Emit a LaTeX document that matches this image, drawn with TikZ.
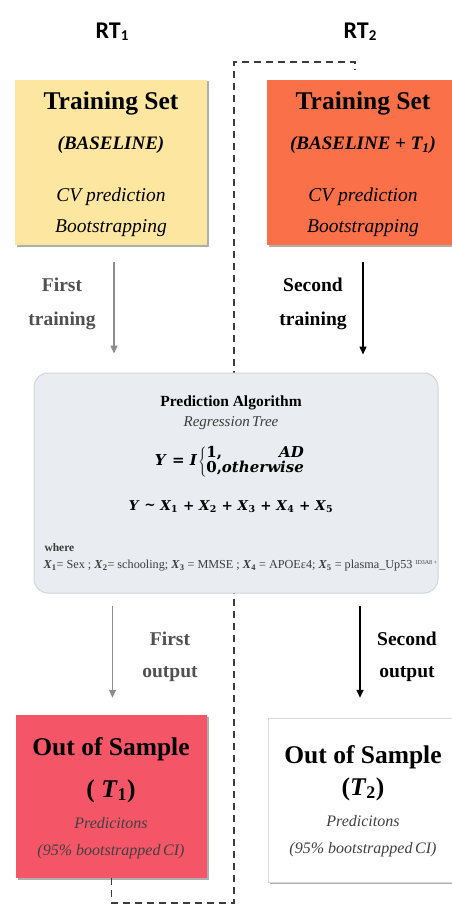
\documentclass[tikz,border=0pt]{standalone}
\usepackage{fontspec}
\setmainfont{Liberation Serif}[BoldFont={Liberation Serif Bold}, ItalicFont={Liberation Serif Italic}, BoldItalicFont={Liberation Serif Bold Italic}]
\newfontfamily\rtfont{Carlito}
\newfontfamily\eqf{DejaVu Serif}
\usetikzlibrary{shadows,arrows.meta}
\definecolor{yel}{RGB}{253,231,160}
\definecolor{org}{RGB}{250,112,72}
\definecolor{redb}{RGB}{244,86,104}
\definecolor{grayb}{RGB}{233,236,240}
\definecolor{grayline}{RGB}{210,214,218}
\definecolor{dgray}{RGB}{60,60,60}
\definecolor{agray}{RGB}{140,140,140}
\definecolor{lgray}{RGB}{80,80,80}
\begin{document}
\begin{tikzpicture}[x=1pt,y=-1pt,
  box/.style={draw=none, inner sep=0pt,
    drop shadow={shadow xshift=1.5pt,shadow yshift=-1.5pt,opacity=0.45,fill=black!70}},
  title/.style={font=\fontsize{25.5}{28}\selectfont\bfseries},
  sub/.style={font=\fontsize{19}{22}\selectfont\bfseries\itshape},
  ital/.style={font=\fontsize{19.5}{22}\selectfont\itshape},
  smallital/.style={font=\fontsize{16}{18}\selectfont\itshape},
  lab/.style={font=\fontsize{19.5}{22}\selectfont\bfseries},
  rt/.style={font=\fontsize{24}{26}\selectfont\rtfont\bfseries},
  dline/.style={dgray, line width=1.4pt, dash pattern=on 7pt off 5pt},
  garrow/.style={agray, line width=1.4pt, -{Triangle[length=8pt,width=7pt]}},
  barrow/.style={black, line width=1.4pt, -{Triangle[length=8pt,width=7pt]}}
]
\useasboundingbox[fill=white] (0,0) rectangle (452,904);

% dashed separator
\coordinate (dtick) at (355,70);
\coordinate (dtop) at (234,62);
\coordinate (dbot) at (234,903);
\node[box, fill=redb, minimum width=191pt, minimum height=163pt] (oos1) at (111.5,796.5) {};
\draw[dline] (oos1.south) |- (dbot) -- (dtop) -| (dtick);

% titles
\node[rt] (rt1) at (112,32) {RT\raisebox{-2pt}{\fontsize{15}{16}\selectfont 1}};
\node[rt] (rt2) at (360,32) {RT\raisebox{-2pt}{\fontsize{15}{16}\selectfont 2}};

% top boxes
\node[box, fill=yel, minimum width=192pt, minimum height=165pt] (ts1) at (111,162.5) {};
\node[box, fill=org, minimum width=190pt, minimum height=165pt] (ts2) at (362,162.5) {};

\node[title] (ts1a) at (111,103) {Training Set};
\node[sub] (ts1b) at (111,145) {(BASELINE)};
\node[ital] (ts1c) at (111,197) {CV prediction};
\node[ital] (ts1d) at (111,228) {Bootstrapping};

\node[title] (ts2a) at (363,103) {Training Set};
\node[sub] (ts2b) at (363,145) {(BASELINE + \textit{T}\textsubscript{1})};
\node[ital] (ts2c) at (363,197) {CV prediction};
\node[ital] (ts2d) at (363,228) {Bootstrapping};

% algorithm box
\node[draw=grayline, fill=grayb, line width=1pt, rounded corners=14pt,
      minimum width=404pt, minimum height=220pt] (algo) at (236,483) {};
\node[font=\fontsize{15.5}{18}\selectfont\bfseries] (alg1) at (231,403) {Prediction Algorithm};
\node[font=\fontsize{15}{17}\selectfont\itshape, text=dgray] (alg2) at (231,423) {Regression\,Tree};
\node[font=\fontsize{15}{17}\selectfont\eqf\bfseries] (alg3) at (230,462)
  {\textit{Y} = \textit{I}\hspace{1pt}$\left\{\begin{tabular}{@{}l@{}r@{}}1, & \textit{AD}\\[-2pt] 0, & \textit{otherwise}\end{tabular}\right.$};
\node[font=\fontsize{13.5}{16}\selectfont\eqf\bfseries] (alg4) at (231,507)
  {\textit{Y} \raisebox{1pt}{\textasciitilde} \textit{X}\textsubscript{1} + \textit{X}\textsubscript{2} + \textit{X}\textsubscript{3} + \textit{X}\textsubscript{4} + \textit{X}\textsubscript{5}};
\node[font=\fontsize{11.5}{13}\selectfont\bfseries, text=dgray, anchor=west] (alg5) at (41,548) {where};
\node[font=\fontsize{12.2}{14}\selectfont, text=dgray, anchor=west] (alg6) at (40,566)
  {\textbf{\textit{X}\textsubscript{1}}= Sex ; \textbf{\textit{X}\textsubscript{2}}= schooling; \textbf{\textit{X}\textsubscript{3}} = MMSE ; \textbf{\textit{X}\textsubscript{4}} = APOEε4; \textbf{\textit{X}\textsubscript{5}} = plasma\_Up53 \textsuperscript{\fontsize{6}{7}\selectfont ID3A8 +}};

% arrows top
\draw[garrow] (ts1.south) ++(3,17) coordinate (ga1) -- (ga1 |- algo.north) [shorten >=19pt];
\draw[barrow] (ts2.south) ++(1,17) coordinate (ba1) -- (ba1 |- algo.north) [shorten >=18pt];
\node[lab, text=lgray] (l1a) at (62,285) {First};
\node[lab, text=lgray] (l1b) at (62,321) {training};
\node[lab] (l2a) at (313,285) {Second};
\node[lab] (l2b) at (313,321) {training};

% bottom boxes
\node[box, fill=white, draw=black!15, minimum width=186pt, minimum height=164pt] (oos2) at (361,800) {};

\draw[garrow] (algo.south -| oos1.north) ++(1,12) coordinate (ga2) -- (ga2 |- oos1.north) [shorten >=17pt];
\draw[barrow] (algo.south -| oos2.north) ++(-1,12) coordinate (ba2) -- (ba2 |- oos2.north) [shorten >=20pt];
\node[lab, text=lgray] (l3a) at (170,639) {First};
\node[lab, text=lgray] (l3b) at (170,674) {output};
\node[lab] (l4a) at (407,639) {Second};
\node[lab] (l4b) at (407,674) {output};

\node[title] (o1a) at (111,749) {Out of Sample};
\node[title] (o1b) at (111,791) {( \textit{T}\textsubscript{1})};
\node[smallital, text=black!75] (o1c) at (111,823) {Predicitons};
\node[smallital, text=black!75] (o1d) at (111,852) {(95\% bootstrapped\,CI)};

\node[title] (o2a) at (363,757) {Out of Sample};
\node[title] (o2b) at (363,789) {(\textit{T}\textsubscript{2})};
\node[smallital, text=black!75] (o2c) at (363,821) {Predicitons};
\node[smallital, text=black!75] (o2d) at (363,850) {(95\% bootstrapped\,CI)};
\end{tikzpicture}
\end{document}
